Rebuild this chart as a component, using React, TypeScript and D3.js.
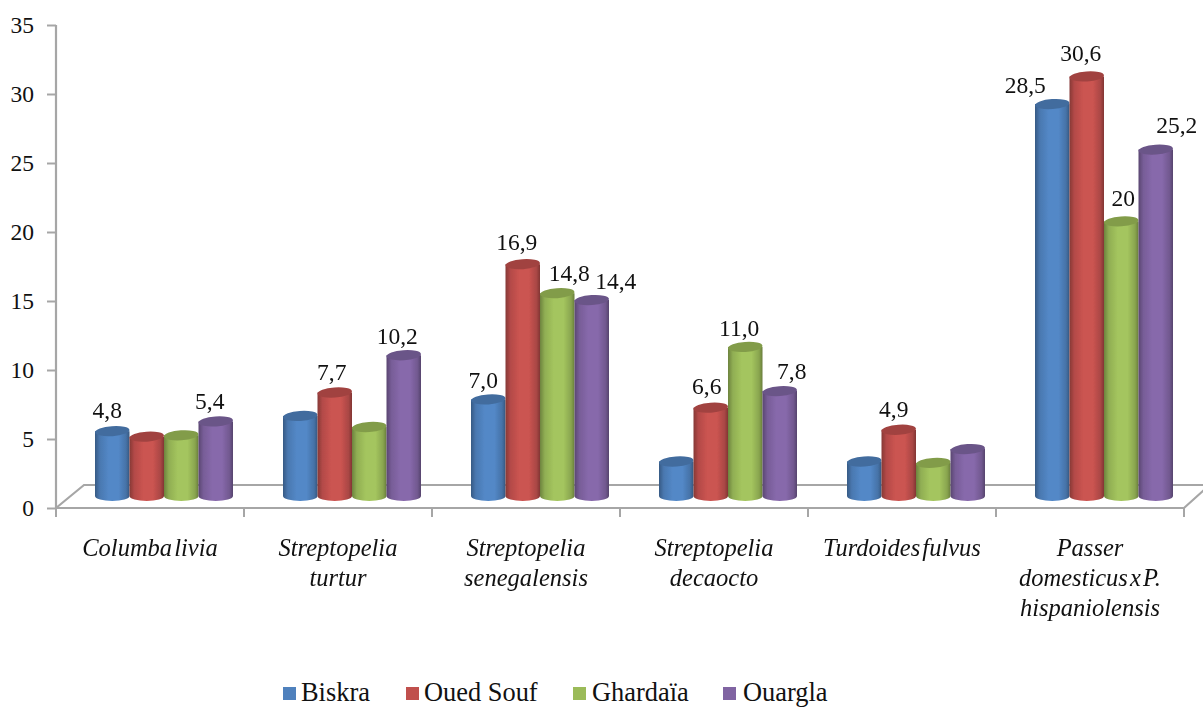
import { useEffect, useRef } from "react";
import * as d3 from "d3";

const categories = [
  ["Columba livia"],
  ["Streptopelia", "turtur"],
  ["Streptopelia", "senegalensis"],
  ["Streptopelia", "decaocto"],
  ["Turdoides fulvus"],
  ["Passer", "domesticus x P.", "hispaniolensis"],
];
const seriesNames = ["Biskra", "Oued Souf", "Ghardaïa", "Ouargla"];
const seriesColors = ["#4f81bd", "#c0504d", "#9bbb59", "#8064a2"];

const biskra = [4.7, 5.8, 7.0, 2.5, 2.5, 28.4];
const ouedSouf = [4.3, 7.5, 16.8, 6.4, 4.8, 30.4];
const ghardaia = [4.4, 5.0, 14.7, 10.8, 2.4, 19.9];
const ouargla = [5.4, 10.2, 14.2, 7.6, 3.4, 25.1];
const seriesValues = [biskra, ouedSouf, ghardaia, ouargla];

// printed labels, empty where the bar has none
const biskraLabels = ["4,8", "", "7,0", "", "", "28,5"];
const ouedSoufLabels = ["", "7,7", "16,9", "6,6", "4,9", "30,6"];
const ghardaiaLabels = ["", "", "14,8", "11,0", "", "20"];
const ouarglaLabels = ["5,4", "10,2", "14,4", "7,8", "", "25,2"];
const seriesLabels = [biskraLabels, ouedSoufLabels, ghardaiaLabels, ouarglaLabels];

const yTicks = [0, 5, 10, 15, 20, 25, 30, 35];

// labels were moved by hand in the original, [series, category, dx, dy]
const labelNudges: [number, number, number, number][] = [
  [0, 0, -5, 1],
  [3, 0, -6, 1],
  [1, 1, -3, 1],
  [3, 1, -6.5, 3],
  [0, 2, -5, 2.5],
  [1, 2, -6, 0],
  [2, 2, 12, 2],
  [3, 2, 24, 3],
  [1, 3, -4, 0],
  [2, 3, -6, 3],
  [3, 3, 12, 2],
  [1, 4, -5, 1],
  [0, 5, -27, 3],
  [1, 5, -6, -1.5],
  [2, 5, 2, -2],
  [3, 5, 21, -2.5],
];

const legendStarts = [283, 406, 573, 723];
const legendGaps = [18, 18, 19, 20];

const width = 1203;
const height = 707;
const fontFamily = "'Liberation Serif', 'Times New Roman', serif";

export default function App() {
  const svgRef = useRef<SVGSVGElement | null>(null);

  useEffect(() => {
    const svg = d3.select(svgRef.current);
    svg.selectAll("*").remove();

    const x0 = d3
      .scaleBand<number>()
      .domain(categories.map((_, i) => i))
      .range([56, 1184])
      .paddingInner(0)
      .paddingOuter(0);
    const x1 = d3
      .scaleBand<number>()
      .domain(seriesNames.map((_, i) => i))
      .range([x0.bandwidth() / 2 + 14 - 69, x0.bandwidth() / 2 + 14 + 69]);
    const y = d3.scaleLinear().domain([0, 35]).range([508, 25]);

    const depth = 12; // bars stand this far behind the axis line
    const rx = x1.bandwidth() / 2;
    const ry = 5;

    const defs = svg.append("defs");
    seriesColors.forEach((color, i) => {
      const c = d3.color(color)!;
      const grad = defs
        .append("linearGradient")
        .attr("id", `cyl${i}`)
        .attr("x1", "0%")
        .attr("x2", "100%");
      grad.append("stop").attr("offset", "0%").attr("stop-color", c.darker(1).formatHex());
      grad.append("stop").attr("offset", "14%").attr("stop-color", c.darker(0.2).formatHex());
      grad.append("stop").attr("offset", "40%").attr("stop-color", c.brighter(0.15).formatHex());
      grad.append("stop").attr("offset", "68%").attr("stop-color", c.brighter(0.15).formatHex());
      grad.append("stop").attr("offset", "90%").attr("stop-color", c.darker(0.35).formatHex());
      grad.append("stop").attr("offset", "100%").attr("stop-color", c.darker(1.1).formatHex());
    });
    const soft = defs.append("filter").attr("id", "soft");
    soft.append("feGaussianBlur").attr("stdDeviation", 0.45);

    // floor and axes
    const axisColor = "#a6a6a6";
    const floor = svg
      .append("g")
      .attr("fill", "none")
      .attr("stroke", axisColor)
      .attr("stroke-width", 2.2)
      .attr("filter", "url(#soft)");
    floor
      .append("path")
      .attr("d", `M${x0.range()[0]},${y(35)}V${y(0)}H${x0.range()[1]}l20,-18`);
    floor.append("path").attr("d", `M${x0.range()[0]},${y(0)}l28,-23H1203`);

    const yAxis = svg
      .append("g")
      .attr("transform", `translate(${x0.range()[0]},0)`)
      .call(d3.axisLeft(y).tickValues(yTicks).tickSize(9).tickPadding(13).tickFormat((d) => String(d)));
    yAxis.select(".domain").remove();
    yAxis.selectAll("line").attr("stroke", axisColor).attr("stroke-width", 2);
    yAxis
      .selectAll("text")
      .attr("fill", "#111")
      .style("font-family", fontFamily)
      .style("font-size", "23.5px");

    const tickX = categories.map((_, i) => x0(i)!).concat(x0.range()[1]);
    svg
      .append("g")
      .selectAll("line")
      .data(tickX)
      .join("line")
      .attr("x1", (d) => d)
      .attr("x2", (d) => d)
      .attr("y1", y(0))
      .attr("y2", y(0) + 9)
      .attr("stroke", axisColor)
      .attr("stroke-width", 2);

    // cylinders
    const bars = svg.append("g").attr("filter", "url(#soft)");
    seriesValues.forEach((values, s) => {
      const g = bars.append("g");
      values.forEach((v, c) => {
        const left = x0(c)! + x1(s)!;
        const top = y(v) - depth;
        const base = y(0) - depth;
        g.append("path")
          .attr(
            "d",
            `M${left},${top}V${base}A${rx},${ry} 0 0 0 ${left + 2 * rx},${base}V${top}Z`,
          )
          .attr("fill", `url(#cyl${s})`);
        g.append("ellipse")
          .attr("cx", left + rx)
          .attr("cy", top)
          .attr("rx", rx)
          .attr("ry", ry)
          .attr("transform", `rotate(-4 ${left + rx} ${top})`)
          .attr("fill", d3.color(seriesColors[s])!.darker(0.5).formatHex());
      });
    });

    // value labels
    seriesLabels.forEach((labels, s) => {
      labels.forEach((label, c) => {
        if (!label) return;
        const nudge = labelNudges.find((n) => n[0] === s && n[1] === c);
        svg
          .append("text")
          .attr("x", x0(c)! + x1(s)! + rx + (nudge ? nudge[2] : 0))
          .attr("y", y(seriesValues[s][c]) - depth - 22 + (nudge ? nudge[3] : 0))
          .attr("dy", "0.35em")
          .attr("text-anchor", "middle")
          .attr("fill", "#111")
          .style("font-family", fontFamily)
          .style("font-size", "23.5px")
          .text(label);
      });
    });

    // category labels
    categories.forEach((lines, c) => {
      const text = svg
        .append("text")
        .attr("text-anchor", "middle")
        .attr("fill", "#111")
        .style("font-family", fontFamily)
        .style("font-style", "italic")
        .style("font-size", "24.5px")
        .style("word-spacing", "-4px");
      lines.forEach((line, i) => {
        text
          .append("tspan")
          .attr("x", x0(c)! + x0.bandwidth() / 2)
          .attr("y", 556 + i * 30)
          .text(line);
      });
    });

    // legend
    const legend = svg
      .append("g")
      .selectAll("g")
      .data(seriesNames)
      .join("g")
      .attr("transform", (_, i) => `translate(${legendStarts[i]},694)`);
    legend
      .append("rect")
      .attr("y", -7)
      .attr("width", 13)
      .attr("height", 13)
      .attr("fill", (_, i) => seriesColors[i]);
    legend
      .append("text")
      .attr("x", (_, i) => legendGaps[i])
      .attr("y", 6.8)
      .attr("fill", "#111")
      .style("font-family", fontFamily)
      .style("font-size", "26.4px")
      .text((d) => d);
  }, []);

  return <svg ref={svgRef} width={width} height={height} style={{ position: "absolute", left: 0, top: 0, background: "#fff" }} />;
}
